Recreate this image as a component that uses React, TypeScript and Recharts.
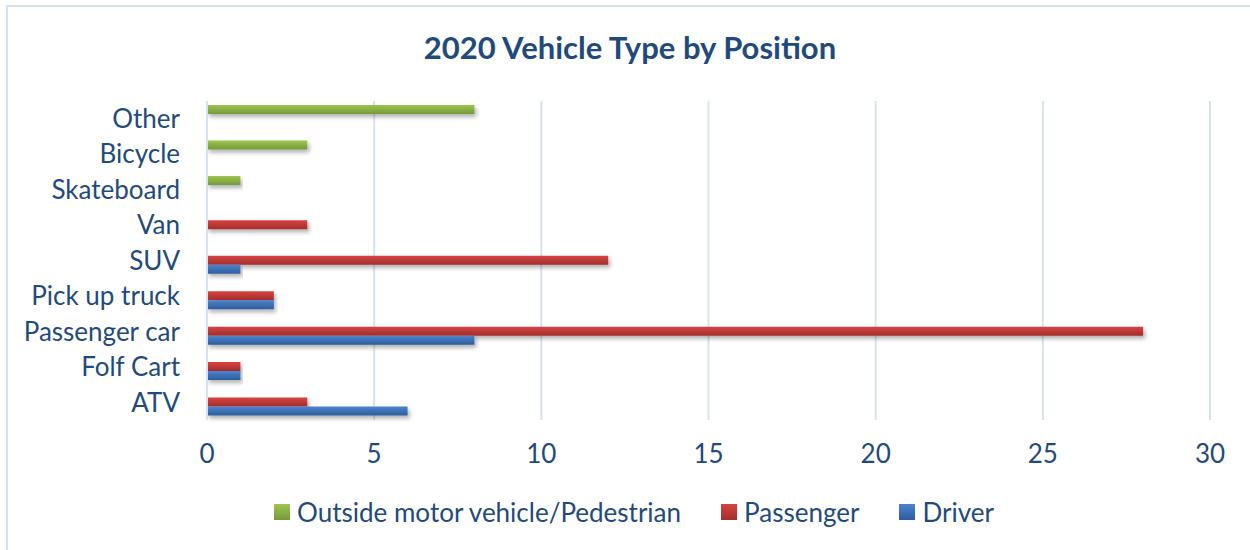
import React from "react";
import { BarChart, Bar, XAxis, YAxis, CartesianGrid, Legend } from "recharts";

// Categories top to bottom, as shown in the chart
const categories = [
  "Other",
  "Bicycle",
  "Skateboard",
  "Van",
  "SUV",
  "Pick up truck",
  "Passenger car",
  "Folf Cart",
  "ATV",
];
const outsideValues = [8, 3, 1, 0, 0, 0, 0, 0, 0];
const passengerValues = [0, 0, 0, 3, 12, 2, 28, 1, 3];
const driverValues = [0, 0, 0, 0, 1, 2, 8, 1, 6];
const xTicks = [0, 5, 10, 15, 20, 25, 30];

const series = [
  { key: "outside", name: "Outside motor vehicle/Pedestrian", top: "#9ec54e", bottom: "#76993a" },
  { key: "passenger", name: "Passenger", top: "#d74341", bottom: "#a32e2c" },
  { key: "driver", name: "Driver", top: "#4c84cd", bottom: "#2d5d9c" },
];

const data = categories.map((name, i) => ({
  name,
  outside: outsideValues[i],
  passenger: passengerValues[i],
  driver: driverValues[i],
}));

const TEXT = "#1f4a7e";
const FONT = "Lato, 'Open Sans', sans-serif";
const GRID = "#d6e2f2";

const LegendContent = () => (
  <div
    style={{
      display: "flex",
      justifyContent: "center",
      alignItems: "center",
      height: 40,
      fontFamily: FONT,
      fontSize: 26,
      color: TEXT,
    }}
  >
    {series.map((s, i) => (
      <div
        key={s.key}
        style={{ display: "flex", alignItems: "center", marginLeft: i ? 40 : 0 }}
      >
        <svg width={16} height={16} style={{ marginRight: 7, flexShrink: 0 }}>
          <rect width={16} height={16} fill={`url(#grad-${s.key})`} />
        </svg>
        <span>{s.name}</span>
      </div>
    ))}
  </div>
);

export default function App() {
  return (
    <div
      style={{
        position: "absolute",
        left: 0,
        top: 0,
        width: 1250,
        height: 550,
        overflow: "hidden",
        background: "#fff",
      }}
    >
      <div
        style={{
          position: "absolute",
          left: 6,
          top: 5,
          width: 1300,
          height: 600,
          border: `2px solid ${GRID}`,
        }}
      />
      <div
        style={{
          position: "absolute",
          top: 29,
          left: 0,
          width: 1260,
          textAlign: "center",
          fontFamily: FONT,
          fontWeight: 700,
          fontSize: 31,
          lineHeight: "36px",
          color: TEXT,
        }}
      >
        2020 Vehicle Type by Position
      </div>
      <BarChart
        width={1250}
        height={550}
        data={data}
        layout="vertical"
        margin={{ top: 101, right: 40, left: 0, bottom: 10 }}
        barCategoryGap={4}
        barGap={0}
        style={{ position: "absolute", left: 0, top: 0 }}
      >
        <defs>
          {series.map((s) => (
            <linearGradient key={s.key} id={`grad-${s.key}`} x1="0" y1="0" x2="0" y2="1">
              <stop offset="0%" stopColor={s.top} />
              <stop offset="100%" stopColor={s.bottom} />
            </linearGradient>
          ))}
          <filter id="barShadow" x="-5%" y="-50%" width="110%" height="220%">
            <feDropShadow dx="2" dy="3" stdDeviation="2" floodColor="#000" floodOpacity="0.3" />
          </filter>
        </defs>
        <CartesianGrid horizontal={false} stroke={GRID} strokeWidth={2} />
        <XAxis
          type="number"
          domain={[0, 30]}
          ticks={xTicks}
          axisLine={false}
          tickLine={false}
          tickMargin={19}
          height={80}
          tick={{ fill: TEXT, fontSize: 26, fontFamily: FONT }}
        />
        <YAxis
          type="category"
          dataKey="name"
          width={207}
          axisLine={{ stroke: GRID, strokeWidth: 2 }}
          tickLine={false}
          tickMargin={21}
          interval={0}
          tick={{ fill: TEXT, fontSize: 26, fontFamily: FONT }}
        />
        <Legend
          verticalAlign="bottom"
          content={<LegendContent />}
          wrapperStyle={{ top: 492, left: 0, width: 1268, height: 40 }}
        />
        {series.map((s) => (
          <Bar
            key={s.key}
            dataKey={s.key}
            name={s.name}
            fill={`url(#grad-${s.key})`}
            filter="url(#barShadow)"
            isAnimationActive={false}
          />
        ))}
      </BarChart>
    </div>
  );
}
